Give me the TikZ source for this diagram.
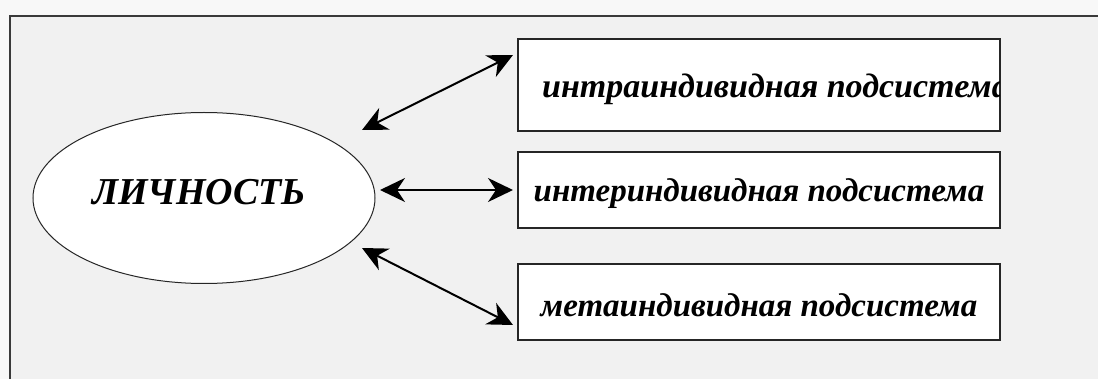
\documentclass[tikz,border=0pt]{standalone}
\usepackage{fontspec}
\setmainfont{Liberation Serif}
\usetikzlibrary{arrows.meta,shapes.geometric}
\definecolor{bgout}{HTML}{F8F8F8}
\definecolor{bgin}{HTML}{F1F1F1}
\definecolor{frame}{HTML}{3A3A3A}
\tikzset{
  boxnode/.style={draw=black!85, line width=1.4pt, fill=white, minimum width=482pt, inner sep=0pt},
  boxtext/.style={font=\fontsize{33}{33}\selectfont\bfseries\itshape, inner sep=0pt},
  link/.style={{Stealth[length=25pt, width=24pt, inset=8pt]}-{Stealth[length=25pt, width=24pt, inset=8pt]}, line width=2pt}
}
\begin{document}
\begin{tikzpicture}[x=1pt,y=-1pt]
\useasboundingbox (0,0) rectangle (1098,379);
\fill[bgout] (0,0) rectangle (1098,379);
\fill[bgin] (10,16) rectangle (1098,379);
\draw[frame, line width=1.5pt] (10,379) -- (10,16) -- (1098,16);

\node[ellipse, draw=black!85, line width=1pt, fill=white, minimum width=342pt, minimum height=171pt, inner sep=0pt] (el) at (204,198) {};
\node[font=\fontsize{38}{38}\selectfont\bfseries\itshape, inner sep=0pt] (eltext) at (199,192) {ЛИЧНОСТЬ};

\node[boxnode, minimum height=92pt] (b1) at (759,85) {};
\node[boxnode, minimum height=76pt] (b2) at (759,190) {};
\node[boxnode, minimum height=76pt] (b3) at (759,302) {};

\begin{scope}
\clip ([xshift=1pt,yshift=1pt]b1.south west) rectangle ([xshift=-1pt,yshift=-1pt]b1.north east);
\node[boxtext, anchor=west, font=\fontsize{34}{34}\selectfont\bfseries\itshape] (t1) at (542,89) {интраиндивидная подсистема};
\end{scope}
\node[boxtext] (t2) at ([yshift=-4pt]b2.center) {интериндивидная подсистема};
\node[boxtext] (t3) at ([yshift=-3pt]b3.center) {метаиндивидная подсистема};

\coordinate (a1s) at (362,130);
\coordinate (a1e) at (513,55);
\coordinate (a2s) at (380,190);
\coordinate (a2e) at (513,190);
\coordinate (a3s) at (362,248);
\coordinate (a3e) at (513,325);
\draw[link] (a1s) -- (a1e);
\draw[link] (a2s) -- (a2e);
\draw[link] (a3s) -- (a3e);
\end{tikzpicture}
\end{document}
